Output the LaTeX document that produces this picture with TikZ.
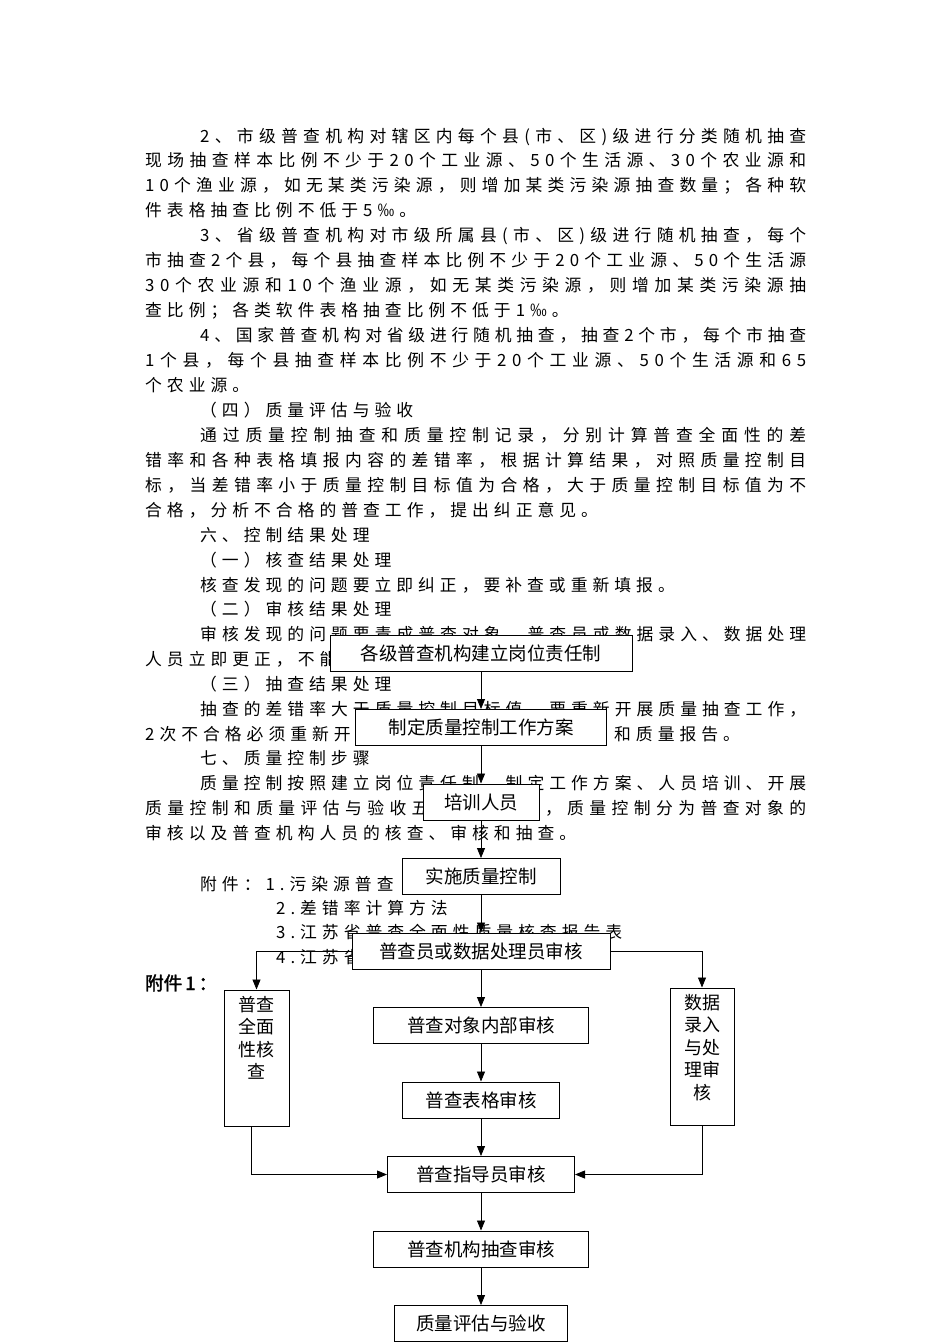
\documentclass[tikz,border=0pt]{standalone}
\usepackage{fontspec}
\usepackage{tikz}
\usetikzlibrary{positioning, arrows.meta}
\newfontfamily\cjk{Noto Sans CJK SC}
\newfontfamily\cjkb{Noto Sans CJK SC}[FakeBold=2]
\newlength\chargap \setlength\chargap{5pt}
\makeatletter
% spread the characters of one line: justified (\jtext) or fixed gap (\rtext)
\newcommand\jtext[1]{\let\jt@sep\relax\@tfor\jt@c:=#1\do{\jt@sep\jt@c\let\jt@sep\hfill}}
\newcommand\rtext[1]{\let\jt@sep\relax\@tfor\jt@c:=#1\do{\jt@sep\jt@c\def\jt@sep{\hskip\chargap}}}
\makeatother

\begin{document}
\begin{tikzpicture}[x=1pt,y=-1pt,
  para/.style={anchor=base west,inner sep=0pt,font=\cjk\fontsize{16.8}{18}\selectfont},
  flow/.style={draw,line width=1pt,fill=white,minimum height=36pt,inner sep=0pt,
               font=\cjk\fontsize{18.5}{22}\selectfont},
  side/.style={draw,line width=1pt,fill=white,inner sep=0pt,
               font=\cjk\fontsize{18}{22.5}\selectfont},
  go/.style={line width=0.8pt,-{Triangle[length=10pt,width=8pt]}},
  node distance=37.5pt]
  \fill[white] (0,0) rectangle (950,1344);
  \useasboundingbox (0,0) rectangle (950,1344);

  % body text, justified lines
  \foreach \nm/\x/\y/\txt in {
    l1/200/136/2、市级普查机构对辖区内每个县(市、区)级进行分类随机抽查,
    l2/145/160/现场抽查样本比例不少于20个工业源、50个生活源、30个农业源和,
    l3/145/185/10个渔业源，如无某类污染源，则增加某类污染源抽查数量；各种软,
    l5/200/235/3、省级普查机构对市级所属县(市、区)级进行随机抽查，每个,
    l6/145/260/市抽查2个县，每个县抽查样本比例不少于20个工业源、50个生活源,
    l7/145/285/30个农业源和10个渔业源，如无某类污染源，则增加某类污染源抽,
    l9/200/335/4、国家普查机构对省级进行随机抽查，抽查2个市，每个市抽查,
    l10/145/360/1个县，每个县抽查样本比例不少于20个工业源、50个生活源和65,
    l13/200/435/通过质量控制抽查和质量控制记录，分别计算普查全面性的差,
    l14/145/460/错率和各种表格填报内容的差错率，根据计算结果，对照质量控制目,
    l15/145/485/标，当差错率小于质量控制目标值为合格，大于质量控制目标值为不,
    l21/200/634/审核发现的问题要责成普查对象、普查员或数据录入、数据处理,
    l24/200/709/抽查的差错率大于质量控制目标值，要重新开展质量抽查工作，,
    l27/200/783/质量控制按照建立岗位责任制、制定工作方案、人员培训、开展,
    l28/145/808/质量控制和质量评估与验收五个步骤进行，质量控制分为普查对象的}
    \node[para] (\nm) at (\x,\y+6.5)
      {\makebox[\dimexpr806pt-\x pt\relax][s]{\expandafter\jtext\expandafter{\txt}}};

  % body text, ragged lines
  \foreach \nm/\x/\y/\txt in {
    l4/145/210/件表格抽查比例不低于5‰。,
    l8/145/310/查比例；各类软件表格抽查比例不低于1‰。,
    l11/145/385/个农业源。,
    l12/200/410/（四）质量评估与验收,
    l16/145/510/合格，分析不合格的普查工作，提出纠正意见。,
    l17/200/535/六、控制结果处理,
    l18/200/560/（一）核查结果处理,
    l19/200/585/核查发现的问题要立即纠正，要补查或重新填报。,
    l20/200/609/（二）审核结果处理,
    l22/145/659/人员立即更正，不能,
    l23/200/684/（三）抽查结果处理,
    l25/145/734/2次不合格必须重新开,
    l25b/614/734/和质量报告。,
    l26/200/758/七、质量控制步骤,
    l29/145/833/审核以及普查机构人员的核查、审核和抽查。,
    l30/200/884/附件：1.污染源普查,
    l31/276/908/2.差错率计算方法,
    l32/276/932/3.江苏省普查全面性质量核查报告表,
    l33/276/957/4.江苏省}
    \node[para] (\nm) at (\x,\y+6.5) {\expandafter\rtext\expandafter{\txt}};

  \node[para,font=\cjkb\fontsize{18.5}{20}\selectfont] (att) at (145,990) {附件\,1\,：};

  % flow chart
  \node[flow,minimum width=302pt] (duty) at (481,653) {各级普查机构建立岗位责任制};
  \node[flow,minimum width=251pt,below=of duty] (plan) {制定质量控制工作方案};
  \node[flow,minimum width=116pt,below=of plan] (train) {培训人员};
  \node[flow,minimum width=158pt,below=of train] (apply) {实施质量控制};
  \node[flow,minimum width=258pt,below=of apply] (check) {普查员或数据处理员审核};
  \node[flow,minimum width=215pt,below=of check] (self) {普查对象内部审核};
  \node[flow,minimum width=157pt,below=of self] (form) {普查表格审核};
  \node[flow,minimum width=187pt,below=of form] (guide) {普查指导员审核};
  \node[flow,minimum width=215pt,below=of guide] (spot) {普查机构抽查审核};
  \node[flow,minimum width=173pt,below=of spot] (accept) {质量评估与验收};

  \node[side,minimum width=65pt,minimum height=136pt] (whole) at (256.5,1058)
    {\parbox[c][124pt][t]{44pt}{\centering 普查\\全面\\性核\\查}};
  \node[side,minimum width=64pt,minimum height=137pt] (entry) at (702,1056.5)
    {\parbox[c][125pt][t]{44pt}{\centering 数据\\录入\\与处\\理审\\核}};

  \draw[go] (duty) -- (plan);
  \draw[go] (plan) -- (train);
  \draw[go] (train) -- (apply);
  \draw[go] (apply) -- (check);
  \draw[go] (check) -- (self);
  \draw[go] (self) -- (form);
  \draw[go] (form) -- (guide);
  \draw[go] (guide) -- (spot);
  \draw[go] (spot) -- (accept);
  \draw[go] (check.west) -| (whole.north);
  \draw[go] (check.east) -| (entry.north);
  \draw[go] ([xshift=-5pt]whole.south) |- (guide.west);
  \draw[go] (entry.south) |- (guide.east);
\end{tikzpicture}
\end{document}
